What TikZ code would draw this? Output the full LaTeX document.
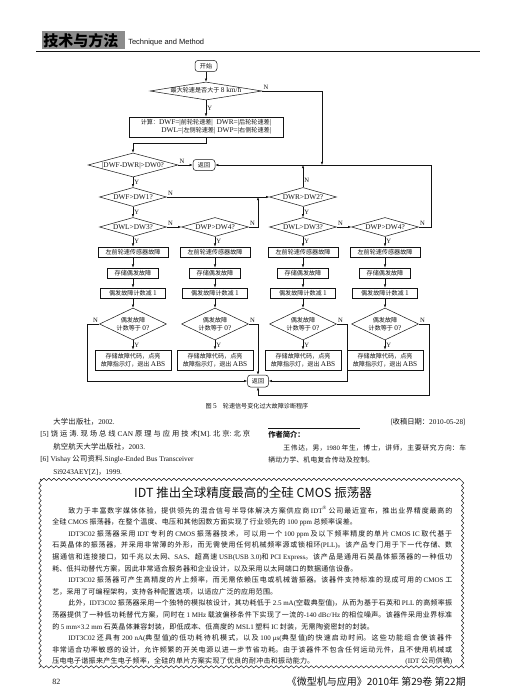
\documentclass[tikz,border=0pt]{standalone}
\usepackage{fontspec}
\setmainfont{Noto Sans CJK SC}
\newfontfamily\serifen{Liberation Serif}
\newfontfamily\chartEn{Liberation Serif}[Scale=1.2]
\newfontfamily\sansen{Liberation Sans}
\usepackage{xcolor}
\usepackage{tikz}
\usetikzlibrary{arrows.meta,positioning,shapes.geometric,decorations.pathmorphing}
\definecolor{ink}{HTML}{141414}
\definecolor{logoGray}{HTML}{8C8C8C}
\XeTeXlinebreaklocale "zh"
\XeTeXlinebreakskip=0.3pt plus 3pt minus 0.2pt
\newcommand{\en}[1]{{\serifen #1}}
\newcommand{\ec}[1]{{\chartEn #1}}

\begin{document}
\begin{tikzpicture}[x=1pt,y=-1pt,ink,line width=0.5pt,>={Latex[length=3.2pt,width=2.4pt]},
  chart/.style={font=\fontsize{6.1}{7.6}\selectfont},
  box/.style={chart,draw,line width=0.75pt,inner sep=0pt,minimum height=10pt},
  term/.style={chart,draw,rounded corners=3pt,inner sep=0pt,minimum width=22pt,minimum height=11pt},
  dec/.style={chart,draw,diamond,aspect=3.5,inner sep=0pt,minimum width=67pt,minimum height=19pt,text height=4pt,text depth=0pt},
  dectwo/.style={chart,draw,diamond,aspect=2.1,inner sep=0pt,minimum width=67pt,minimum height=32pt,align=center},
  yn/.style={font=\chartEn\fontsize{5.5}{6}\selectfont,inner sep=1pt},
  note/.style={font=\fontsize{7.3}{12.5}\selectfont,inner sep=0pt}]
\useasboundingbox (0,0) rectangle (504,690);
\fill[white] (0,0) rectangle (504,690);
% running head
\XeTeXlinebreakskip=0.5pt\relax
\fill[logoGray] (42,31) rectangle (125,49);
\node[font=\fontsize{15}{15}\selectfont\bfseries,anchor=base west,inner sep=0pt,black] (logo) at (43,47) {技术与方法};
\node[font=\sansen\fontsize{7.5}{9}\selectfont,anchor=base west,inner sep=0pt] (head) at (128,45) {Technique and Method};
\draw[line width=0.8pt] (36,51) -- (480,51);
% flow chart, top part
\XeTeXlinebreakskip=1.2pt\relax
\node[term] (start) at (206,66) {开始};
\node[dec,minimum width=112pt,minimum height=18pt,aspect=6.2] (dmax) at (206,91) {最大轮速是否大于 \ec{8 km/h}};
\node[box,minimum width=154pt,minimum height=20pt,inner xsep=2pt,align=right] (calc) at (206,127)
  {计算：\ec{DWF=|}前轮轮速差\ec{|\ \ DWR=|}后轮轮速差\ec{|}\\\ec{DWL=|}左侧轮速差\ec{| DWP=|}右侧轮速差\ec{|}};
\node[dec,minimum width=90pt,minimum height=24pt,aspect=3.75] (d0) at (133,165) {\ec{|DWF-DWR|>DW0?}};
\node[term] (ret1) at (204,165) {返回};
\node[dec] (d1) at (133,197) {\ec{DWF>DW1?}};
\node[dec] (d2) at (303,197) {\ec{DWR>DW2?}};
\node[dec] (d3) at (133,227) {\ec{DWL>DW3?}};
\node[dec] (d4) at (215,227) {\ec{DWP>DW4?}};
\node[dec] (d5) at (303,227) {\ec{DWL>DW3?}};
\node[dec] (d6) at (385,227) {\ec{DWP>DW4?}};
\coordinate (jtop) at (322,165);
\coordinate (jmid) at (303,165);
\coordinate (jleft) at (258,197);
\draw[->] (start) -- (dmax);
\draw[->] (dmax) -- node[yn,right]{Y} (calc);
\draw[->] (dmax.east) node[yn,above right]{N} -| (jtop);
\draw[->] (calc.south) -- ++(0,6) -| (d0.north);
\draw[->] (d0.east) node[yn,above right]{N} -- (ret1.west);
\draw[->] (d0) -- node[yn,right]{Y} (d1);
\draw[->] (d1.east) node[yn,above right]{N} -- (d2.west);
\draw[->] (d1) -- node[yn,right]{Y} (d3);
\draw[->] (d3.east) node[yn,above right]{N} -- (d4.west);
\draw[->] (d4.east) node[yn,above right]{N} -| (jleft);
\draw[->] (d2) -- node[yn,right,pos=0.3]{N} (jmid);
\draw[->] (d2) -- node[yn,right]{Y} (d5);
\draw[->] (d5.east) node[yn,above right]{N} -- (d6.west);
\draw[->] (d6.east) node[yn,above right]{N} -- ++(12,0) |- (ret1.east);
% four fault columns
\foreach \i/\x in {1/133,2/215,3/303,4/385}{
  \node[box,minimum width=70pt] (s\i) at (\x,252) {左前轮速传感器故障};
  \node[box,minimum width=51pt] (o\i) at (\x,273) {存储偶发故障};
  \node[box,minimum width=65pt] (c\i) at (\x,293) {偶发故障计数减 \ec{1}};
  \node[dectwo] (z\i) at (\x,324) {偶发故障\\计数等于 \ec{0?}};
  \node[box,minimum width=76pt,minimum height=20pt,align=center] (e\i) at (\x,360) {存储故障代码，点亮\\故障指示灯，退出 \ec{ABS}};
  \draw[->] (s\i) -- (o\i);
  \draw[->] (o\i) -- (c\i);
  \draw[->] (c\i) -- (z\i);
  \draw[->] (z\i) -- node[yn,right]{Y} (e\i);
}
\draw[->] (d3) -- node[yn,right]{Y} (s1);
\draw[->] (d4) -- node[yn,right]{Y} (s2);
\draw[->] (d5) -- node[yn,right]{Y} (s3);
\draw[->] (d6) -- node[yn,right]{Y} (s4);
\node[term,minimum width=21pt,minimum height=12pt] (ret2) at (258,381) {返回};
\draw[->] (z1.west) node[yn,above left]{N} -- ++(-12,0) |- (ret2.west);
\draw[->] (z2.east) node[yn,above right]{N} -| (ret2.north);
\draw[->] (z3.east) node[yn,above right]{N} -- ++(10,0) |- (ret2.east);
\draw[->] (z4.east) node[yn,above right]{N} -- ++(10,0) -- ++(0,71) -| (ret2.south);
\node[chart,inner sep=0pt] (cap) at (257,406) {图 \ec{5}\quad 轮速信号变化过大故障诊断程序};
% references and author note
\XeTeXlinebreakskip=0.3pt plus 3pt minus 0.2pt\relax
\node[note,anchor=base west,text width=210pt,align=justify] (refs) at (40,424) {%
\hspace*{13pt}大学出版社，\en{2002.}\newline
\en{[5]} 饶运涛.现场总线 \en{CAN} 原理与应用技术\en{[M]}.北京:北京\linebreak
\hspace*{13pt}航空航天大学出版社，\en{2003.}\newline
\en{[6] Vishay} 公司资料.\en{Single-Ended Bus Transceiver}\newline
\hspace*{13pt}\en{Si9243AEY[Z]}，\en{1999.}};
\node[note,anchor=base east] (recv) at (466,424) {(收稿日期：\en{2010-05-28})};
\draw (268,428) -- (360,428);
\node[note,anchor=base west,font=\fontsize{7.3}{12.5}\selectfont\bfseries] (bio) at (268,437) {作者简介：};
\node[note,anchor=base west,text width=198pt,align=justify,font=\fontsize{6.8}{12.5}\selectfont] (biotext) at (268,450) {%
\hspace*{15pt}王伟达，男，\en{1980} 年生，博士，讲师，主要研究方向：车\linebreak
辆动力学、机电复合传动及控制。};
% news box
\draw[decorate,decoration={snake,amplitude=1.2pt,segment length=5pt},line width=0.45pt] (40,479) rectangle (463,668);
\XeTeXlinebreakskip=2.6pt\relax
\node[font=\fontsize{12.5}{14}\selectfont,anchor=base,inner sep=0pt] (title) at (253,497) {IDT 推出全球精度最高的全硅 CMOS 振荡器};
\XeTeXlinebreakskip=0.3pt plus 3pt minus 0.2pt\relax
\node[note,anchor=base west,text width=400pt,align=justify,font=\fontsize{7}{11.6}\selectfont] (news) at (52,513) {%
\hspace*{16pt}致力于丰富数字媒体体验，提供领先的混合信号半导体解决方案供应商 \en{IDT\textsuperscript{®}} 公司最近宣布，推出业界精度最高的\linebreak
全硅 \en{CMOS} 振荡器，在整个温度、电压和其他因数方面实现了行业领先的 \en{100 ppm} 总频率误差。\par
\hspace*{16pt}\en{IDT3C02} 振荡器采用 \en{IDT} 专利的 \en{CMOS} 振荡器技术，可以用一个 \en{100 ppm} 及以下频率精度的单片 \en{CMOS IC} 取代基于\linebreak
石英晶体的振荡器，并采用非常薄的外形，而无需使用任何机械频率源或锁相环\en{(PLL)}。该产品专门用于下一代存储、数\linebreak
据通信和连接接口，如千兆以太网、\en{SAS}、超高速 \en{USB(USB 3.0)}和 \en{PCI Express}。该产品是通用石英晶体振荡器的一种低功\linebreak
耗、低抖动替代方案，因此非常适合服务器和企业设计，以及采用以太网端口的数据通信设备。\par
\hspace*{16pt}\en{IDT3C02} 振荡器可产生高精度的片上频率，而无需依赖压电或机械谐振器。该器件支持标准的现成可用的 \en{CMOS} 工\linebreak
艺，采用了可编程架构，支持各种配置选项，以适应广泛的应用范围。\par
\hspace*{16pt}此外，\en{IDT3C02} 振荡器采用一个独特的模拟核设计，其功耗低于 \en{2.5 mA(}空载典型值\en{)}，从而为基于石英和 \en{PLL} 的高频率振\linebreak
荡器提供了一种低功耗替代方案，同时在 \en{1 MHz} 载波偏移条件下实现了一流的\en{-140 dBc/Hz} 的相位噪声。该器件采用业界标准\linebreak
的 \en{5 mm×3.2 mm} 石英晶体兼容封装，即低成本、低高度的 \en{MSL1} 塑料 \en{IC} 封装，无需陶瓷密封的封装。\par
\hspace*{16pt}\en{IDT3C02} 还具有 \en{200 nA(}典型值\en{)}的低功耗待机模式，以及 \en{100 μs(}典型值\en{)}的快速启动时间。这些功能组合使该器件\linebreak
非常适合功率敏感的设计，允许频繁的开关电源以进一步节省功耗。由于该器件不包含任何运动元件，且不使用机械或\linebreak
压电电子谐振来产生电子频率，全硅的单片方案实现了优良的耐冲击和振动能力。\hfill\en{(IDT} 公司供稿\en{)}};
% folio
\node[font=\serifen\fontsize{8}{9}\selectfont,anchor=base west,inner sep=0pt] (folio) at (52,684) {82};
\node[font=\fontsize{10}{12}\selectfont,anchor=base east,inner sep=0pt] (journal) at (466,685) {《微型机与应用》2010年 第29卷 第22期};
\end{tikzpicture}
\end{document}
